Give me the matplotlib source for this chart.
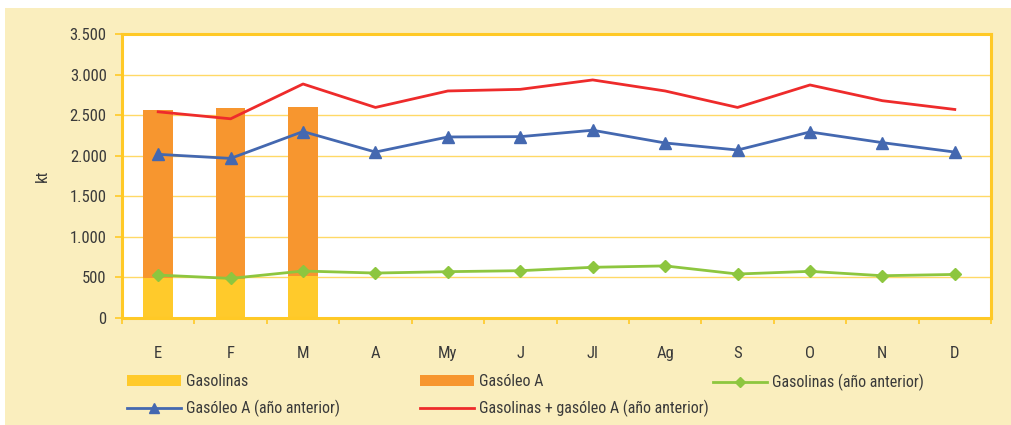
import matplotlib
matplotlib.use("Agg")
import matplotlib.pyplot as plt
from matplotlib import font_manager
from matplotlib.patches import Rectangle, Patch
from matplotlib.lines import Line2D
from matplotlib.ticker import FuncFormatter, FixedLocator

# ---------------- data ----------------
months = ['E', 'F', 'M', 'A', 'My', 'J', 'Jl', 'Ag', 'S', 'O', 'N', 'D']
gasolinas = [496, 483, 521]
gasoleo_a = [2062, 2100, 2074]
gasolinas_prev = [529, 488, 579, 554, 571, 583, 625, 642, 542, 575, 521, 537]
gasoleo_prev = [2017, 1967, 2298, 2045, 2231, 2235, 2314, 2157, 2070, 2293, 2161, 2045]
total_prev = [2541, 2455, 2884, 2595, 2798, 2818, 2934, 2798, 2595, 2872, 2678, 2570]
y_ticks = [0, 500, 1000, 1500, 2000, 2500, 3000, 3500]

# ---------------- fonts ----------------
avail = {f.name for f in font_manager.fontManager.ttflist}
family = 'DejaVu Sans'
for cand in ['Liberation Sans Narrow', 'Roboto Condensed', 'Open Sans Condensed',
             'Noto Sans Condensed', 'DejaVu Sans Condensed', 'Arial Narrow']:
    if cand in avail:
        family = cand
        break
plt.rcParams['font.family'] = [family, 'DejaVu Sans']
plt.rcParams['font.stretch'] = 'condensed'

TEXT = '#3a3a3a'
YEL = '#FFC926'
GRID = '#FFD966'
C_GASOL = '#FFCA2B'
C_GASOLEO = '#F7962F'
C_GREEN = '#8DC63F'
C_BLUE = '#4468B0'
C_RED = '#EE2B2B'
CREAM = '#FAEEBE'

W, H = 1012, 425
fig = plt.figure(figsize=(W / 100, H / 100), dpi=100)
fig.patch.set_facecolor('white')
fig.patches.append(Rectangle((5 / W, 0), 1 - 5 / W, 1 - 8 / H, transform=fig.transFigure,
                             facecolor=CREAM, edgecolor='none', zorder=-10))

ax = fig.add_axes([122 / W, 1 - 318 / H, (991 - 122) / W, (318 - 34) / H])
ax.set_facecolor('white')

x = list(range(len(months)))
nb = len(gasolinas)
bw = 0.41
ax.bar(x[:nb], gasolinas, width=bw, color=C_GASOL, zorder=2)
ax.bar(x[:nb], gasoleo_a, width=bw, bottom=gasolinas, color=C_GASOLEO, zorder=2)

ax.plot(x, gasolinas_prev, color=C_GREEN, lw=2.0, marker='D', ms=6, zorder=3)
ax.plot(x, gasoleo_prev, color=C_BLUE, lw=2.0, marker='^', ms=8, zorder=3)
ax.plot(x, total_prev, color=C_RED, lw=2.0, zorder=3)

ax.set_xlim(-0.5, len(months) - 0.5)
ax.set_ylim(0, 3500)
ax.set_yticks(y_ticks)
ax.yaxis.set_major_formatter(FuncFormatter(lambda v, p: f'{int(v):,}'.replace(',', '.')))
for yv in y_ticks[1:-1]:
    ax.axhline(yv, color=GRID, lw=1.0, zorder=1)

ax.set_xticks(x)
ax.set_xticklabels(months)
ax.xaxis.set_minor_locator(FixedLocator([i - 0.5 for i in range(len(months) + 1)]))
ax.tick_params(axis='x', which='major', length=0, pad=20, labelsize=12, labelcolor=TEXT)
ax.tick_params(axis='x', which='minor', length=4.5, width=1.2, color=YEL, direction='out')
ax.tick_params(axis='y', which='major', length=5, width=1.2, color=YEL, pad=6,
               labelsize=12, labelcolor=TEXT)

for s in ax.spines.values():
    s.set_color(YEL)
    s.set_linewidth(2.2)

ax.set_ylabel('kt', fontsize=12, color=TEXT)
ax.yaxis.set_label_coords((50 - 122) / (991 - 122), 0.5)

# ---------------- legend ----------------
h_gasol = Patch(facecolor=C_GASOL, edgecolor='none')
h_gasoleo = Patch(facecolor=C_GASOLEO, edgecolor='none')
h_green = Line2D([], [], color=C_GREEN, lw=2.0, marker='D', ms=5)
h_blue = Line2D([], [], color=C_BLUE, lw=2.0, marker='^', ms=7)
h_red = Line2D([], [], color=C_RED, lw=2.0)

common = dict(frameon=False, loc='upper left', borderpad=0, borderaxespad=0,
              handlelength=3.4, handletextpad=0.3, labelspacing=0.7,
              fontsize=11.5, labelcolor=TEXT, bbox_transform=fig.transFigure)
top = 1 - 374 / H
leg1 = fig.legend([h_gasol, h_blue], ['Gasolinas', 'Gasóleo A (año anterior)'],
                  bbox_to_anchor=(127 / W, top), **common)
leg2 = fig.legend([h_gasoleo, h_red], ['Gasóleo A', 'Gasolinas + gasóleo A (año anterior)'],
                  bbox_to_anchor=(420 / W, top), **common)
leg3 = fig.legend([h_green], ['Gasolinas (año anterior)'],
                  bbox_to_anchor=(713 / W, top), **common)

fig.savefig('out.png', dpi=100)
